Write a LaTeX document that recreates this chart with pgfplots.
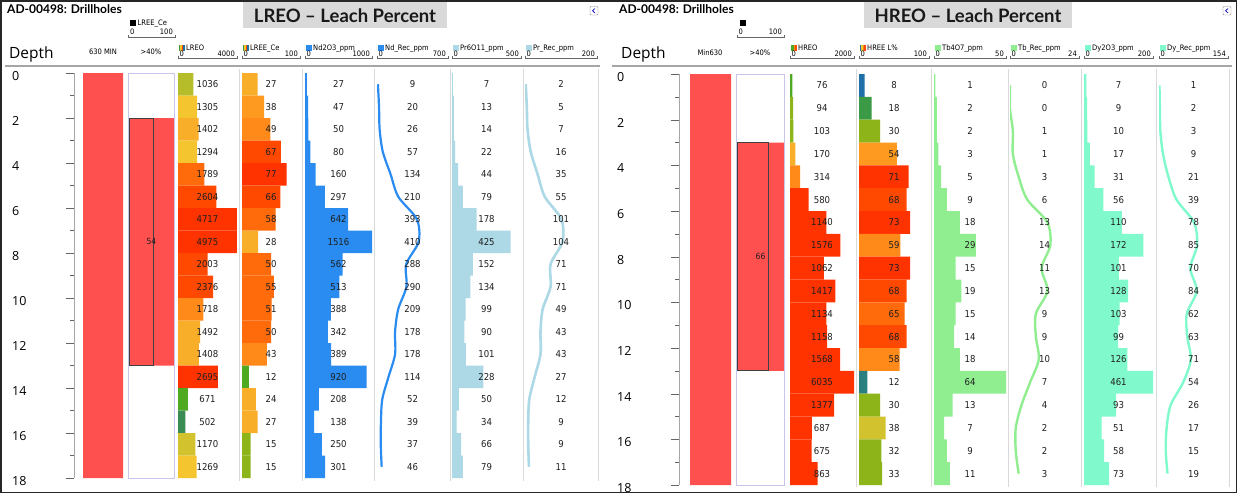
\documentclass[border=0pt]{standalone}
\usepackage{fontspec}
\setmainfont{DejaVu Sans Condensed}
\newfontfamily\osans{Open Sans}
\newfontfamily\lato{Lato}
\usepackage{pgfplots}
\usepackage{pgfplotstable}
\pgfplotsset{compat=1.18}

\definecolor{rd}{HTML}{FF5050}
\definecolor{bx}{HTML}{C8C4EC}
\definecolor{c1}{HTML}{B5BD2A}
\definecolor{c2}{HTML}{F5C52F}
\definecolor{c3}{HTML}{F9AE2A}
\definecolor{c4b}{HTML}{FF9A20}
\definecolor{c4}{HTML}{FF8A1A}
\definecolor{c5}{HTML}{FF6A0A}
\definecolor{c6}{HTML}{FF4800}
\definecolor{c7}{HTML}{FF3300}
\definecolor{g1}{HTML}{4FAA22}
\definecolor{g2}{HTML}{3A8C55}
\definecolor{g5}{HTML}{3A9A45}
\definecolor{g3}{HTML}{8DB51A}
\definecolor{g4}{HTML}{D2C22E}
\definecolor{t1}{HTML}{1F6FA8}
\definecolor{t2}{HTML}{2A8080}
\definecolor{ndb}{HTML}{2A8CF0}
\definecolor{prb}{HTML}{ADD8E6}
\definecolor{tbg}{HTML}{90EE90}
\definecolor{dya}{HTML}{80FACC}
\definecolor{sep}{HTML}{D9D9D9}
\definecolor{ttl}{HTML}{D9D9D9}

\newcommand\numfont{\fontsize{9.5}{10}\selectfont}
\newcommand\hfont{\fontsize{7.5}{8}\selectfont}

\pgfplotstableread{
d lreo lce nd ndr pr prr
0 1036 27 27 9 7 2
1 1305 38 47 20 13 5
2 1402 49 50 26 14 7
3 1294 67 80 57 22 16
4 1789 77 160 134 44 35
5 2604 66 297 210 79 55
6 4717 58 642 393 178 101
7 4975 28 1516 410 425 104
8 2003 50 562 288 152 71
9 2376 55 513 290 134 71
10 1718 51 388 209 99 49
11 1492 50 342 178 90 43
12 1408 43 389 178 101 43
13 2695 12 920 114 228 27
14 671 24 208 52 50 12
15 502 27 138 39 34 9
16 1170 15 250 37 66 9
17 1269 15 301 46 79 11
18 0 0 0 0 0 0
}\tabL

\pgfplotstableread{
d hreo hl tb tbr dy dyr
0 76 8 1 0 7 1
1 94 18 2 0 9 2
2 103 30 2 1 10 3
3 170 54 3 1 17 9
4 314 71 5 3 31 21
5 580 68 9 6 56 39
6 1140 73 18 13 110 78
7 1576 59 29 14 172 85
8 1062 73 15 11 101 70
9 1417 68 19 13 128 84
10 1134 65 15 9 103 62
11 1158 68 14 9 99 63
12 1568 58 18 10 126 71
13 6035 12 64 7 461 54
14 1377 30 13 4 93 26
15 687 38 7 2 51 17
16 675 32 9 2 58 15
17 863 33 11 3 73 19
18 0 0 0 0 0 0
}\tabR

\pgfplotsset{
  /pgf/number format/1000 sep={},
  /pgf/number format/assume math mode=true,
  trk/.style={scale only axis, ymin=0, ymax=18, y dir=reverse, xmin=0,
     hide axis, clip=true, anchor=north west},
  trkL/.style={trk, height=405pt},
  trkR/.style={trk, height=411pt},
  lbl/.style={draw=none, mark=none, nodes near coords, point meta=explicit,
     every node near coord/.append style={anchor=center, font=\numfont, text=black!88, inner sep=0pt}},
  dax/.style={scale only axis, width=0.5pt, ymin=0, ymax=18, y dir=reverse, xmin=0, xmax=1,
     axis x line=none, axis y line*=left, anchor=north west,
     ytick={0,2,...,18}, minor ytick={1,3,...,17}, tick align=outside,
     major tick length=8pt, minor tick length=4pt,
     axis line style={black!35}, tick style={black!60},
     yticklabel style={font=\osans\fontsize{12.5}{13}\selectfont, anchor=west, xshift=-54pt, yshift=-3pt, inner sep=0pt}},
}

\newcommand{\rb}[4]{\addplot[const plot mark right, fill=#4, draw=none, forget plot] coordinates {(0,#1) (#3,#1) (0,#2)} -- cycle;}

% header: x1, x2, name, icon, max
\newcommand{\hdr}[5]{%
  \begin{scope}[shift={(#1pt,0pt)}]#4\end{scope}
  \node[anchor=base west, inner sep=0pt, font=\hfont] at (#1pt+8pt,-50pt) {#3};
  \node[anchor=base west, inner sep=0pt, font=\hfont] at (#1pt+1.5pt,-56.5pt) {0};
  \node[anchor=base east, inner sep=0pt, font=\hfont] at (#2pt-2pt,-56.5pt) {#5};
  \draw[black!60, line width=0.6pt] (#1pt,-55.5pt) -- (#1pt,-58.5pt) -- (#2pt,-58.5pt) -- (#2pt,-55.5pt);
}
\newcommand{\icsolid}[1]{\fill[#1] (1pt,-45pt) rectangle (6.5pt,-50.5pt);}
\newcommand{\icrain}[4]{\fill[#1] (1pt,-45pt) rectangle (2.4pt,-50.5pt);\fill[#2] (2.4pt,-45pt) rectangle (3.8pt,-50.5pt);\fill[#3] (3.8pt,-45pt) rectangle (5.2pt,-50.5pt);\fill[#4] (5.2pt,-45pt) rectangle (6.6pt,-50.5pt);}

\begin{document}
\begin{tikzpicture}
\path[use as bounding box] (0pt,0pt) rectangle (1237pt,-493pt);
\fill[white] (0pt,0pt) rectangle (1237pt,-493pt);

% ---------------- titles / frames ----------------
\fill[ttl] (243pt,0pt) rectangle (447pt,-28pt);
\fill[ttl] (864pt,0pt) rectangle (1072pt,-28pt);
\node[anchor=base, font=\lato\bfseries\fontsize{18.5}{18}\selectfont, text=black!90] at (345pt,-22pt) {LREO – Leach Percent};
\node[anchor=base, font=\lato\bfseries\fontsize{18.5}{18}\selectfont, text=black!90] at (968pt,-22pt) {HREO – Leach Percent};
\node[anchor=base west, inner sep=0pt, font=\lato\bfseries\fontsize{12}{12}\selectfont] at (7pt,-13.5pt) {AD-00498: Drillholes};
\node[anchor=base west, inner sep=0pt, font=\lato\bfseries\fontsize{12}{12}\selectfont] at (619pt,-13.5pt) {AD-00498: Drillholes};
\foreach \ix in {590,1223}{
  \draw[rounded corners=1pt, draw=black!45, fill=white] (\ix pt,-6.5pt) rectangle (\ix pt+8pt,-15pt);
  \draw[blue!70!black, line width=0.7pt] (\ix pt+5pt,-8.5pt) -- (\ix pt+2.7pt,-10.75pt) -- (\ix pt+5pt,-13pt);
}
\node[anchor=base west, inner sep=0pt, font=\osans\fontsize{15.5}{16}\selectfont] at (9pt,-58pt) {Depth};
\node[anchor=base west, inner sep=0pt, font=\osans\fontsize{15.5}{16}\selectfont] at (621pt,-58pt) {Depth};
\draw[black!35, line width=2pt] (5pt,-65.5pt) -- (600pt,-65.5pt);
\draw[black!35, line width=2pt] (612pt,-65.5pt) -- (1232pt,-65.5pt);

% header labels left
\node[anchor=base, inner sep=0pt, font=\hfont] at (103pt,-54.5pt) {630 MIN};
\node[anchor=base, inner sep=0pt, font=\hfont] at (151pt,-54.5pt) {>40\%};
\fill[black] (130pt,-20pt) rectangle (135.5pt,-25.5pt);
\node[anchor=base west, inner sep=0pt, font=\hfont] at (137.5pt,-25.5pt) {LREE\_Ce};
\node[anchor=base west, inner sep=0pt, font=\hfont] at (130pt,-34pt) {0};
\node[anchor=base east, inner sep=0pt, font=\hfont] at (173pt,-34pt) {100};
\draw[black!60, line width=0.6pt] (128pt,-34.5pt) -- (128pt,-37pt) -- (175pt,-37pt) -- (175pt,-34.5pt);
\hdr{178}{237}{LREO}{\icrain{g5}{c2}{c6}{t1}}{4000}
\hdr{242}{300}{LREE\_Ce}{\icrain{g5}{c2}{c6}{t1}}{100}
\hdr{305}{372}{Nd2O3\_ppm}{\icsolid{ndb}}{1000}
\hdr{377}{448}{Nd\_Rec\_ppm}{\icsolid{ndb}}{700}
\hdr{452}{521}{Pr6O11\_ppm}{\icsolid{prb}}{500}
\hdr{525}{597}{Pr\_Rec\_ppm}{\icsolid{prb}}{200}

% header labels right
\node[anchor=base, inner sep=0pt, font=\hfont] at (710pt,-55.5pt) {Min630};
\node[anchor=base, inner sep=0pt, font=\hfont] at (760pt,-55.5pt) {>40\%};
\fill[black] (739.5pt,-19.5pt) rectangle (745.5pt,-26pt);
\node[anchor=base west, inner sep=0pt, font=\hfont] at (738.5pt,-34pt) {0};
\node[anchor=base east, inner sep=0pt, font=\hfont] at (782pt,-34pt) {100};
\draw[black!60, line width=0.6pt] (737pt,-34.5pt) -- (737pt,-37pt) -- (784pt,-37pt) -- (784pt,-34.5pt);
\hdr{790}{854}{HREO}{\icrain{g1}{g1}{c4}{c6}}{2000}
\hdr{859}{929}{HREE L\%}{\icrain{t1}{c2}{c4}{c6}}{100}
\hdr{934}{1006}{Tb4O7\_ppm}{\icsolid{tbg}}{50}
\hdr{1010}{1079}{Tb\_Rec\_ppm}{\icsolid{tbg}}{24}
\hdr{1084}{1153}{Dy2O3\_ppm}{\icsolid{dya}}{200}
\hdr{1159}{1228}{Dy\_Rec\_ppm}{\icsolid{dya}}{154}

% separators
\foreach \sx in {239.5,302.5,374.5,450,523,598.5}{\draw[sep, line width=0.8pt] (\sx pt,-69pt) -- (\sx pt,-481pt);}
\foreach \sx in {856.5,931.5,1008,1081.5,1156,1229.5}{\draw[sep, line width=0.8pt] (\sx pt,-69pt) -- (\sx pt,-487pt);}

% ================= LEFT PANEL =================
\begin{axis}[dax, height=405pt, at={(74pt,-73pt)}]
\end{axis}

\begin{axis}[trkL, width=40pt, xmax=100, at={(83pt,-73pt)}]
\addplot[const plot mark right, fill=rd, draw=none] coordinates {(0,0) (100,0) (0,18)} -- cycle;
\end{axis}

\begin{axis}[trkL, width=45pt, xmax=100, at={(129pt,-73pt)}]
\addplot[const plot mark right, fill=rd, draw=none] coordinates {(0,2) (100,2) (0,13)} -- cycle;
\addplot[const plot mark right, draw=black!75, line width=0.8pt] coordinates {(0,2) (54,2) (0,13)} -- cycle;
\addplot[lbl, every node near coord/.append style={font=\fontsize{8.5}{9}\selectfont}] coordinates {(50,7.5) [54]};
\end{axis}
\draw[bx, line width=0.8pt] (128.5pt,-73pt) rectangle (174.5pt,-478pt);

\begin{axis}[trkL, width=59pt, xmax=4000, at={(178pt,-73pt)}]
\rb{0}{1}{1036}{c1}\rb{1}{2}{1305}{c2}\rb{2}{3}{1402}{c3}\rb{3}{4}{1294}{c2}
\rb{4}{5}{1789}{c5}\rb{5}{6}{2604}{c6}\rb{6}{7}{4717}{c7}\rb{7}{8}{4975}{c7}
\rb{8}{9}{2003}{c6}\rb{9}{10}{2376}{c6}\rb{10}{11}{1718}{c4}\rb{11}{12}{1492}{c3}
\rb{12}{13}{1408}{c3}\rb{13}{14}{2695}{c7}\rb{14}{15}{671}{g1}\rb{15}{16}{502}{g2}
\rb{16}{17}{1170}{g4}\rb{17}{18}{1269}{c2}
\addplot[lbl] table[x expr=2000, y expr=\thisrow{d}+0.5, meta=lreo, skip coords between index={18}{19}] {\tabL};
\end{axis}

\begin{axis}[trkL, width=58pt, xmax=100, at={(242pt,-73pt)}]
\rb{0}{1}{27}{c3}\rb{1}{2}{38}{c4b}\rb{2}{3}{49}{c4}\rb{3}{4}{67}{c6}
\rb{4}{5}{77}{c7}\rb{5}{6}{66}{c6}\rb{6}{7}{58}{c5}\rb{7}{8}{28}{c3}
\rb{8}{9}{50}{c5}\rb{9}{10}{55}{c5}\rb{10}{11}{51}{c5}\rb{11}{12}{50}{c5}
\rb{12}{13}{43}{c4}\rb{13}{14}{12}{g1}\rb{14}{15}{24}{c3}\rb{15}{16}{27}{c3}
\rb{16}{17}{15}{g3}\rb{17}{18}{15}{g3}
\addplot[lbl] table[x expr=50, y expr=\thisrow{d}+0.5, meta=lce, skip coords between index={18}{19}] {\tabL};
\end{axis}

\begin{axis}[trkL, width=67pt, xmax=1000, at={(305pt,-73pt)}]
\addplot[const plot mark right, fill=ndb, draw=none] table[x=nd, y=d] {\tabL} -- (axis cs:0,0) -- cycle;
\addplot[lbl] table[x expr=500, y expr=\thisrow{d}+0.5, meta=nd, skip coords between index={18}{19}] {\tabL};
\end{axis}

\begin{axis}[trkL, width=71pt, xmax=700, at={(377pt,-73pt)}]
\addplot[ndb, line width=2.2pt, smooth, mark=none] table[x=ndr, y expr=\thisrow{d}+0.5, skip coords between index={18}{19}] {\tabL};
\addplot[lbl] table[x expr=350, y expr=\thisrow{d}+0.5, meta=ndr, skip coords between index={18}{19}] {\tabL};
\end{axis}

\begin{axis}[trkL, width=69pt, xmax=500, at={(452pt,-73pt)}]
\addplot[const plot mark right, fill=prb, draw=none] table[x=pr, y=d] {\tabL} -- (axis cs:0,0) -- cycle;
\addplot[lbl] table[x expr=250, y expr=\thisrow{d}+0.5, meta=pr, skip coords between index={18}{19}] {\tabL};
\end{axis}

\begin{axis}[trkL, width=72pt, xmax=200, at={(525pt,-73pt)}]
\addplot[prb, line width=2.6pt, smooth, mark=none] table[x=prr, y expr=\thisrow{d}+0.5, skip coords between index={18}{19}] {\tabL};
\addplot[lbl] table[x expr=100, y expr=\thisrow{d}+0.5, meta=prr, skip coords between index={18}{19}] {\tabL};
\end{axis}

% ================= RIGHT PANEL =================
\begin{axis}[dax, height=411pt, at={(679pt,-74pt)}]
\end{axis}

\begin{axis}[trkR, width=41pt, xmax=100, at={(690pt,-74pt)}]
\addplot[const plot mark right, fill=rd, draw=none] coordinates {(0,0) (100,0) (0,18)} -- cycle;
\end{axis}

\begin{axis}[trkR, width=47pt, xmax=100, at={(737pt,-74pt)}]
\addplot[const plot mark right, fill=rd, draw=none] coordinates {(0,3) (100,3) (0,13)} -- cycle;
\addplot[const plot mark right, draw=black!75, line width=0.8pt] coordinates {(0,3) (66,3) (0,13)} -- cycle;
\addplot[lbl, every node near coord/.append style={font=\fontsize{8.5}{9}\selectfont}] coordinates {(50,8) [66]};
\end{axis}
\draw[bx, line width=0.8pt] (736.5pt,-74pt) rectangle (784.5pt,-485pt);

\begin{axis}[trkR, width=64pt, xmax=2000, at={(790pt,-74pt)}]
\rb{0}{1}{76}{g1}\rb{1}{2}{94}{g3}\rb{2}{3}{103}{g3}\rb{3}{4}{170}{c3}
\rb{4}{5}{314}{c4}\rb{5}{6}{580}{c7}\rb{6}{7}{1140}{c7}\rb{7}{8}{1576}{c7}
\rb{8}{9}{1062}{c7}\rb{9}{10}{1417}{c7}\rb{10}{11}{1134}{c7}\rb{11}{12}{1158}{c7}
\rb{12}{13}{1568}{c7}\rb{13}{14}{6035}{c7}\rb{14}{15}{1377}{c7}\rb{15}{16}{687}{c7}
\rb{16}{17}{675}{c7}\rb{17}{18}{863}{c7}
\addplot[lbl] table[x expr=1000, y expr=\thisrow{d}+0.5, meta=hreo, skip coords between index={18}{19}] {\tabR};
\end{axis}

\begin{axis}[trkR, width=70pt, xmax=100, at={(859pt,-74pt)}]
\rb{0}{1}{8}{t1}\rb{1}{2}{18}{g5}\rb{2}{3}{30}{g3}\rb{3}{4}{54}{c4b}
\rb{4}{5}{71}{c7}\rb{5}{6}{68}{c6}\rb{6}{7}{73}{c7}\rb{7}{8}{59}{c4}
\rb{8}{9}{73}{c7}\rb{9}{10}{68}{c6}\rb{10}{11}{65}{c5}\rb{11}{12}{68}{c6}
\rb{12}{13}{58}{c4}\rb{13}{14}{12}{t2}\rb{14}{15}{30}{g3}\rb{15}{16}{38}{g4}
\rb{16}{17}{32}{g3}\rb{17}{18}{33}{g3}
\addplot[lbl] table[x expr=50, y expr=\thisrow{d}+0.5, meta=hl, skip coords between index={18}{19}] {\tabR};
\end{axis}

\begin{axis}[trkR, width=72pt, xmax=50, at={(934pt,-74pt)}]
\addplot[const plot mark right, fill=tbg, draw=none] table[x=tb, y=d] {\tabR} -- (axis cs:0,0) -- cycle;
\addplot[lbl] table[x expr=25, y expr=\thisrow{d}+0.5, meta=tb, skip coords between index={18}{19}] {\tabR};
\end{axis}

\begin{axis}[trkR, width=69pt, xmax=24, at={(1010pt,-74pt)}]
\addplot[tbg, line width=2.4pt, smooth, mark=none] table[x=tbr, y expr=\thisrow{d}+0.5, skip coords between index={18}{19}] {\tabR};
\addplot[lbl] table[x expr=12, y expr=\thisrow{d}+0.5, meta=tbr, skip coords between index={18}{19}] {\tabR};
\end{axis}

\begin{axis}[trkR, width=69pt, xmax=200, at={(1084pt,-74pt)}]
\addplot[const plot mark right, fill=dya, draw=none] table[x=dy, y=d] {\tabR} -- (axis cs:0,0) -- cycle;
\addplot[lbl] table[x expr=100, y expr=\thisrow{d}+0.5, meta=dy, skip coords between index={18}{19}] {\tabR};
\end{axis}

\begin{axis}[trkR, width=69pt, xmax=154, at={(1159pt,-74pt)}]
\addplot[dya, line width=2.4pt, smooth, mark=none] table[x=dyr, y expr=\thisrow{d}+0.5, skip coords between index={18}{19}] {\tabR};
\addplot[lbl] table[x expr=77, y expr=\thisrow{d}+0.5, meta=dyr, skip coords between index={18}{19}] {\tabR};
\end{axis}

\draw[black!85, line width=1.5pt] (0.75pt,-0.75pt) rectangle (1236.25pt,-492.25pt);
\end{tikzpicture}
\end{document}
